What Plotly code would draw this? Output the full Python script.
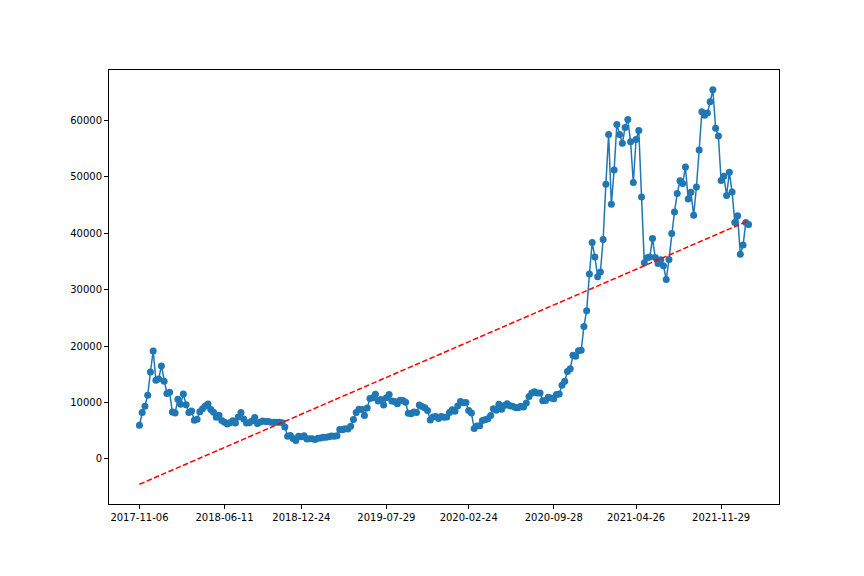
import numpy as np
import pandas as pd
import plotly.graph_objects as go

# weekly close, one value per week starting 2017-11-06
start_date = "2017-11-06"
prices = [
    5950, 8200, 9330, 11290, 15400, 19140, 13925, 14157, 16477, 13772,
    11600, 11786, 8277, 8129, 10550, 9664, 11513, 9578, 8223, 8470,
    6844, 7023, 8355, 8865, 9348, 9700, 8723, 8247, 7362, 7720,
    6786, 6499, 6164, 6386, 6753, 6357, 7404, 8220, 7064, 6329,
    6401, 6719, 7302, 6260, 6514, 6710, 6625, 6604, 6489, 6491,
    6484, 6485, 6411, 5623, 4009, 4139, 3614, 3252, 3983, 3923,
    4076, 3510, 3536, 3541, 3414, 3661, 3673, 3810, 3808, 3924,
    4025, 3993, 4105, 5195, 5167, 5325, 5283, 5752, 6969, 8193,
    8805, 8737, 7688, 8994, 10701, 10817, 11450, 10257, 10535, 9530,
    10822, 11390, 10232, 10144, 9757, 10400, 10358, 10019, 8063, 7988,
    8297, 8223, 9551, 9261, 9055, 8550, 6900, 7424, 7511, 7152,
    7511, 7385, 7411, 8192, 8706, 8445, 9345, 10167, 9934, 9985,
    8563, 8108, 5392, 5831, 5881, 6776, 6915, 7120, 7679, 8897,
    8601, 9670, 8790, 9450, 9746, 9386, 9304, 9116, 9073, 9303,
    9208, 9905, 11054, 11681, 11911, 11681, 11680, 10280, 10334, 10920,
    10775, 10669, 11385, 11495, 13031, 13737, 15479, 15955, 18370, 18177,
    19142, 19247, 23477, 26272, 32782, 38356, 35791, 32289, 33114, 38903,
    48717, 57540, 45137, 51206, 59302, 57523, 55950, 58758, 60205, 56216,
    49004, 56632, 58232, 46456, 34770, 35678, 35796, 39097, 35698, 34649,
    35287, 34240, 31797, 35351, 39974, 43798, 47047, 49322, 48848, 51770,
    46063, 47261, 43208, 48200, 54772, 61553, 60931, 61318, 63326, 65466,
    58622, 57248, 49368, 50098, 46707, 50810, 47345, 41911, 43097, 36276,
    37917, 41900, 41570,
]

tick_labels = ["2017-11-06", "2018-06-11", "2018-12-24", "2019-07-29",
               "2020-02-24", "2020-09-28", "2021-04-26", "2021-11-29"]
y_ticks = [0, 10000, 20000, 30000, 40000, 50000, 60000]

dates = pd.date_range(start_date, periods=len(prices), freq="7D")

# linear trend over the week index
idx = np.arange(len(prices))
slope, intercept = np.polyfit(idx, prices, 1)
trend = slope * idx + intercept

# matplotlib-like 5% margins
span = dates[-1] - dates[0]
x_range = [dates[0] - span * 0.05, dates[-1] + span * 0.05]
lo = min(min(prices), trend.min())
hi = max(max(prices), trend.max())
pad = (hi - lo) * 0.05
y_range = [lo - pad, hi + pad]

fig = go.Figure()
fig.add_trace(go.Scatter(
    x=dates, y=prices, mode="lines+markers",
    line=dict(color="#1f77b4", width=1.5),
    marker=dict(color="#1f77b4", size=7),
))
fig.add_trace(go.Scatter(
    x=dates, y=trend, mode="lines",
    line=dict(color="red", width=1.5, dash="5.5px,2.4px"),
))

axis_style = dict(showline=True, mirror=True, linecolor="black", linewidth=1,
                  ticks="outside", ticklen=4, tickcolor="black",
                  showgrid=False, zeroline=False,
                  tickfont=dict(family="DejaVu Sans", size=10, color="black"))

fig.update_layout(
    width=864, height=576,
    margin=dict(l=101, r=93, t=62, b=80),
    paper_bgcolor="white", plot_bgcolor="white",
    showlegend=False,
    xaxis=dict(type="date", range=x_range,
               tickvals=pd.to_datetime(tick_labels), ticktext=tick_labels,
               **axis_style),
    yaxis=dict(range=y_range, tickvals=y_ticks, tickformat="d", **axis_style),
)

fig.write_html("out.html")
